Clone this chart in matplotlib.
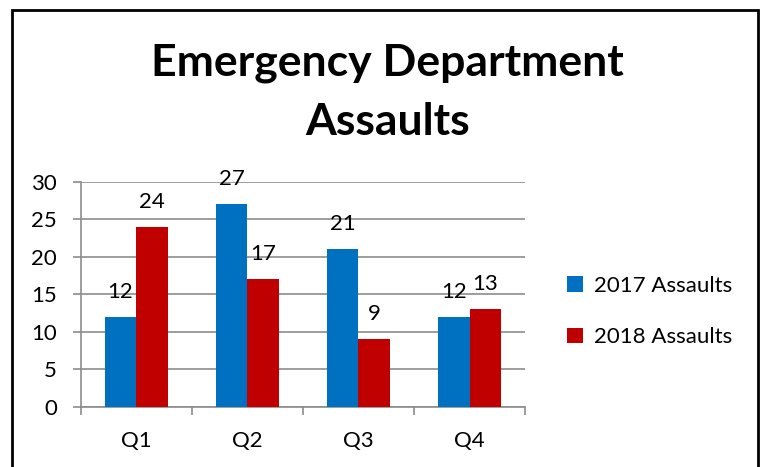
import numpy as np
import matplotlib.pyplot as plt
from matplotlib.patches import Rectangle

# ── Data ────────────────────────────────────────────────────────────────
quarters     = ["Q1", "Q2", "Q3", "Q4"]
assaults2017 = [12, 27, 21, 12]
assaults2018 = [24, 17, 9, 13]
series_names = ["2017 Assaults", "2018 Assaults"]
y_ticks      = [0, 5, 10, 15, 20, 25, 30]

BLUE  = "#0070C0"
RED   = "#C00000"
GRID  = "#8C8C8C"
FS    = 16

plt.rcParams["font.family"] = ["Lato", "DejaVu Sans"]

fig = plt.figure(figsize=(7.65, 4.67), dpi=100)
fig.patch.set_facecolor("white")

# outer chart frame
fig.patches.append(Rectangle((12 / 765, -0.05), 746 / 765, 1.05 - 10 / 467,
                             transform=fig.transFigure, fill=False,
                             edgecolor="black", lw=2))

ax = fig.add_axes([0.1055, 0.1285, 0.581, 0.482])

x = np.arange(len(quarters))
w = 0.284
b1 = ax.bar(x - w / 2, assaults2017, w, color=BLUE, label=series_names[0], zorder=3)
b2 = ax.bar(x + w / 2, assaults2018, w, color=RED, label=series_names[1], zorder=3)
ax.bar_label(b1, fontsize=FS, padding=11)
ax.bar_label(b2, fontsize=FS, padding=11)

ax.set_xlim(-0.5, len(quarters) - 0.5)
ax.set_ylim(0, 30)
ax.set_yticks(y_ticks)
ax.set_xticks(x)
ax.set_xticklabels(quarters)
ax.set_xticks(np.arange(len(quarters) + 1) - 0.5, minor=True)
ax.tick_params(axis="x", which="major", length=0, pad=17, labelsize=FS)
ax.tick_params(axis="x", which="minor", length=6, color=GRID, width=1.2)
ax.tick_params(axis="y", length=6, color=GRID, width=1.2, pad=11, labelsize=FS)

ax.yaxis.grid(True, color=GRID, lw=1.2, zorder=0)
for s in ["top", "right"]:
    ax.spines[s].set_visible(False)
for s in ["left", "bottom"]:
    ax.spines[s].set_color(GRID)
    ax.spines[s].set_linewidth(1.2)

fig.text(0.507, 0.865, "Emergency Department", ha="center", va="center",
         fontsize=32, fontweight="bold")
fig.text(0.507, 0.739, "Assaults", ha="center", va="center",
         fontsize=32, fontweight="bold")

ax.legend(loc="center left", bbox_to_anchor=(1.094, 0.424), frameon=False,
          fontsize=FS, handlelength=0.7, handleheight=0.7, handletextpad=0.5,
          labelspacing=1.4, borderpad=0, borderaxespad=0)

fig.savefig("out.png", dpi=100)
